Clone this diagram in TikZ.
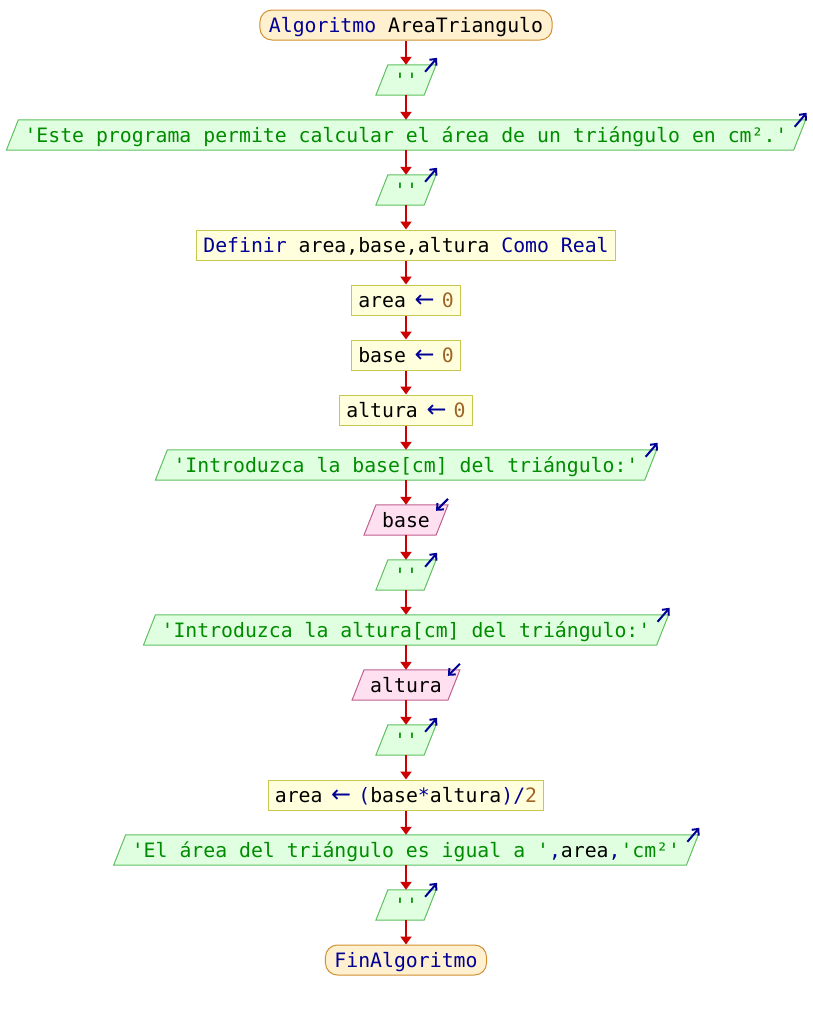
\documentclass[tikz,border=0pt]{standalone}
\usepackage{fontspec}
\setmonofont{DejaVu Sans Mono}
\newfontfamily\arrowfont{DejaVu Sans}
\usetikzlibrary{arrows.meta,calc,backgrounds}

\definecolor{kwc}{RGB}{0,0,150}
\definecolor{strc}{RGB}{0,140,0}
\definecolor{numc}{RGB}{160,100,40}
\definecolor{flowc}{RGB}{204,0,0}
\definecolor{termfill}{RGB}{255,240,208}
\definecolor{termdraw}{RGB}{208,144,48}
\definecolor{procfill}{RGB}{255,255,221}
\definecolor{procdraw}{RGB}{200,200,80}
\definecolor{outfill}{RGB}{224,255,224}
\definecolor{outdraw}{RGB}{96,192,96}
\definecolor{infill}{RGB}{255,224,240}
\definecolor{indraw}{RGB}{192,96,144}

\newcommand\kw[1]{\textcolor{kwc}{#1}}
\newcommand\st[1]{\textcolor{strc}{#1}}
\newcommand\nm[1]{\textcolor{numc}{#1}}
% assignment arrow: a wide arrow filling the " <- " cells
\newcommand\asg{\makebox[35.8pt]{\hspace{1.5pt}\kw{\resizebox{20pt}{!}{\arrowfont ←}}}}

\tikzset{
  x=1pt, y=-1pt,
  txt/.style={font=\ttfamily\fontsize{19.8}{22}\selectfont, minimum height=30pt,
    inner ysep=0pt, text height=17pt, text depth=3pt, anchor=center},
  term/.style={txt, draw=termdraw, fill=termfill, rounded corners=12pt,
    inner xsep=9pt, line width=1pt},
  proc/.style={txt, draw=procdraw, fill=procfill, inner xsep=6.5pt, line width=1pt},
  io/.style={txt, inner xsep=12pt},
  outshape/.style={draw=outdraw, fill=outfill, line width=1pt},
  inshape/.style={draw=indraw, fill=infill, line width=1pt},
  icon/.style={draw=kwc, line width=2pt, -{Straight Barb[length=5pt,width=9pt]}},
  flow/.style={draw=flowc, line width=2pt, -{Triangle[length=8pt,width=11pt]}},
}

% output parallelogram with its "write" arrow
\newcommand\outnode[3]{%
  \node[io] (#1) at (406,#2) {#3};
  \begin{scope}[on background layer]
    \path[outshape] ($(#1.north west)+(6,0)$) -- ($(#1.north east)+(6,0)$)
      -- ($(#1.south east)+(-6,0)$) -- ($(#1.south west)+(-6,0)$) -- cycle;
  \end{scope}
  \draw[icon] ($(#1.north east)+(-5,7)$) -- ($(#1.north east)+(7,-7)$);
}
% input parallelogram with its "read" arrow
\newcommand\innode[3]{%
  \node[io] (#1) at (406,#2) {#3};
  \begin{scope}[on background layer]
    \path[inshape] ($(#1.north west)+(6,0)$) -- ($(#1.north east)+(6,0)$)
      -- ($(#1.south east)+(-6,0)$) -- ($(#1.south west)+(-6,0)$) -- cycle;
  \end{scope}
  \draw[icon] ($(#1.north east)+(6,-6)$) -- ($(#1.north east)+(-6,6)$);
}

\begin{document}
\begin{tikzpicture}
\useasboundingbox (0,0) rectangle (812,1010);

\node[term] (n0) at (406,25) {\kw{Algoritmo} AreaTriangulo};
\outnode{n1}{80}{\st{''}}
\outnode{n2}{135}{\st{'Este programa permite calcular el área de un triángulo en cm².'}}
\outnode{n3}{190}{\st{''}}
\node[proc] (n4) at (406,245) {\kw{Definir} area,base,altura \kw{Como} \kw{Real}};
\node[proc] (n5) at (406,300) {area\asg\nm{0}};
\node[proc] (n6) at (406,355) {base\asg\nm{0}};
\node[proc] (n7) at (406,410) {altura\asg\nm{0}};
\outnode{n8}{465}{\st{'Introduzca la base[cm] del triángulo:'}}
\innode{n9}{520}{base}
\outnode{n10}{575}{\st{''}}
\outnode{n11}{630}{\st{'Introduzca la altura[cm] del triángulo:'}}
\innode{n12}{685}{altura}
\outnode{n13}{740}{\st{''}}
\node[proc] (n14) at (406,795) {area\asg\kw{(}base\kw{*}altura\kw{)/}\nm{2}};
\outnode{n15}{850}{\st{'El área del triángulo es igual a '}\kw{,}area\kw{,}\st{'cm²'}}
\outnode{n16}{905}{\st{''}}
\node[term] (n17) at (406,960) {\kw{FinAlgoritmo}};

\foreach \a/\b in {n0/n1,n1/n2,n2/n3,n3/n4,n4/n5,n5/n6,n6/n7,n7/n8,n8/n9,
  n9/n10,n10/n11,n11/n12,n12/n13,n13/n14,n14/n15,n15/n16,n16/n17}
  \draw[flow] (\a.south) -- (\b.north);
\end{tikzpicture}
\end{document}
